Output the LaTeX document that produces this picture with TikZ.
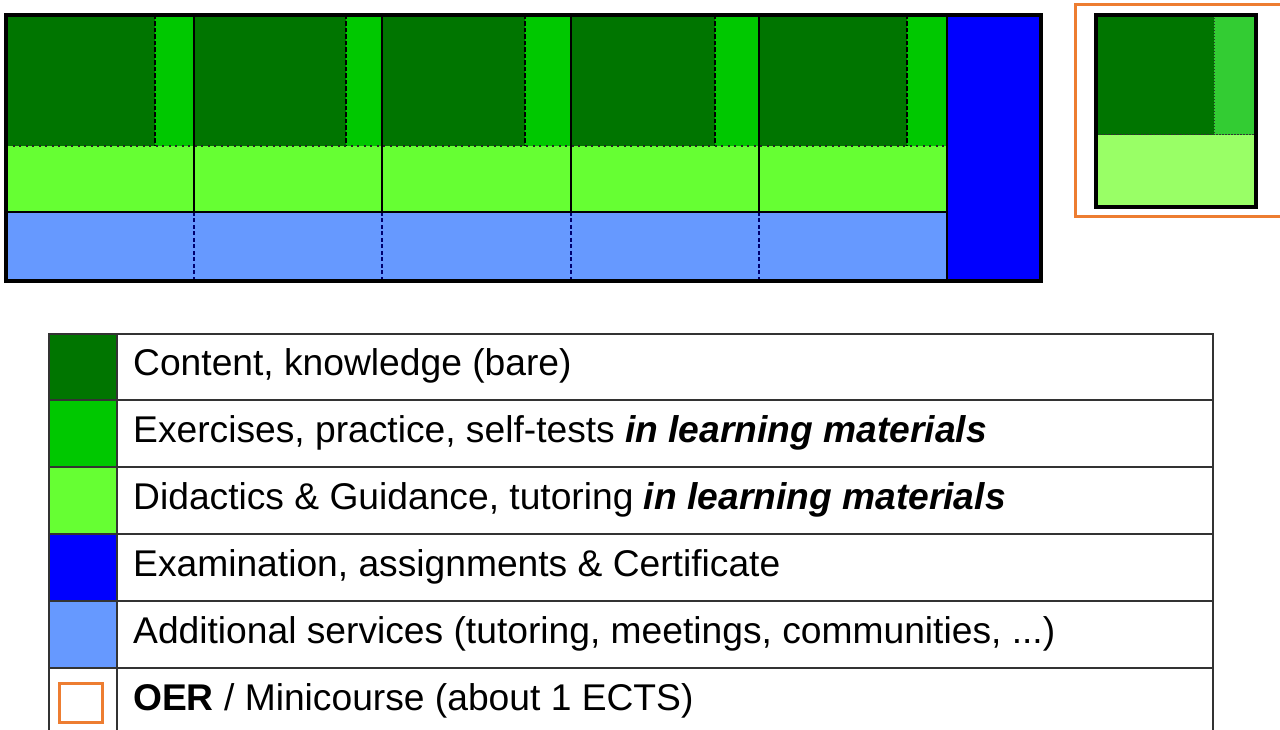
\documentclass[tikz,border=0pt]{standalone}
\usepackage{fontspec}
\setmainfont{Liberation Sans}
\definecolor{dkgreen}{HTML}{007500}
\definecolor{mdgreen}{HTML}{00C800}
\definecolor{ltgreen}{HTML}{66FF33}
\definecolor{exblue}{HTML}{0000FF}
\definecolor{svblue}{HTML}{6699FF}
\definecolor{oerorange}{HTML}{ED7D31}
\definecolor{minimid}{HTML}{33CC33}
\definecolor{minilight}{HTML}{99FF66}
\definecolor{gridgray}{HTML}{333333}
\definecolor{navyline}{HTML}{000070}
\begin{document}
\begin{tikzpicture}[x=1pt,y=-1pt,
  frame/.style={draw=black,line width=3.2pt,line join=miter},
  thickline/.style={draw=black,line width=2.6pt},
  coldiv/.style={draw=black,line width=1.3pt},
  svdiv/.style={draw=navyline,line width=1.3pt,dash pattern=on 4pt off 2.5pt},
  splitline/.style={draw=black,line width=1.6pt,dash pattern=on 4.5pt off 2pt},
  dotline/.style={draw=black!85,line width=2pt,dash pattern=on 2pt off 4.5pt},
  minidot/.style={draw=black!80,line width=1pt,dash pattern=on 1.5pt off 1.5pt},
  oerbox/.style={draw=oerorange,line width=3pt},
  grid/.style={draw=gridgray,line width=1.5pt},
  legtext/.style={anchor=base west,inner sep=0pt,font=\fontsize{37.2}{45}\selectfont}]
\clip (0,0) rectangle (1280,730);
\fill[white] (0,0) rectangle (1280,730);

% five modules: content, exercises, guidance and services
\foreach \a/\s/\b in {6/155/194, 194/346/382, 382/525/571, 571/715/759, 759/907/947} {
  \fill[dkgreen] (\a,15) rectangle (\s,146);
  \fill[mdgreen] (\s,15) rectangle (\b,146);
  \fill[ltgreen] (\a,146) rectangle (\b,212);
  \fill[svblue] (\a,212) rectangle (\b,281);
  \draw[splitline] (\s,15) -- (\s,146);
}
% examination block
\fill[exblue] (947,15) rectangle (1041,281);
\draw[dotline] (6,146) -- (947,146);
\foreach \b in {194,382,571,759} {
  \draw[coldiv] (\b,15) -- (\b,212);
  \draw[svdiv] (\b,212) -- (\b,281);
}
\draw[thickline] (6,212) -- (947,212);
\draw[thickline] (947,15) -- (947,281);
\draw[frame] (6,15) rectangle (1041,281);

% minicourse
\draw[oerbox] (1075,5) rectangle (1295,217);
\fill[dkgreen] (1096,15) rectangle (1214,135);
\fill[minimid] (1214,15) rectangle (1256,135);
\fill[minilight] (1096,135) rectangle (1256,207);
\draw[minidot] (1096,135) -- (1256,135);
\draw[minidot] (1214,15) -- (1214,135);
\draw[frame,line width=4pt] (1096,15) rectangle (1256,207);

% legend
\fill[dkgreen] (49,334) rectangle (117,400);
\fill[mdgreen] (49,400) rectangle (117,467);
\fill[ltgreen] (49,467) rectangle (117,534);
\fill[exblue] (49,534) rectangle (117,601);
\fill[svblue] (49,601) rectangle (117,668);
\draw[oerbox,line width=3pt] (59,683) rectangle (102,722);
\draw[grid] (49,334) rectangle (1213,745);
\foreach \y in {400,467,534,601,668} \draw[grid] (49,\y) -- (1213,\y);
\draw[grid] (117,334) -- (117,745);

\node[legtext] (l1) at (133,375) {Content, knowledge (bare)};
\node[legtext] (l2) at (133,442) {Exercises, practice, self-tests \textbf{\textit{in learning materials}}};
\node[legtext] (l3) at (133,509) {Didactics \& Guidance, tutoring \textbf{\textit{in learning materials}}};
\node[legtext] (l4) at (133,576) {Examination, assignments \& Certificate};
\node[legtext] (l5) at (133,643) {Additional services (tutoring, meetings, communities, ...)};
\node[legtext] (l6) at (133,710) {\textbf{OER} / Minicourse (about 1 ECTS)};
\end{tikzpicture}
\end{document}
